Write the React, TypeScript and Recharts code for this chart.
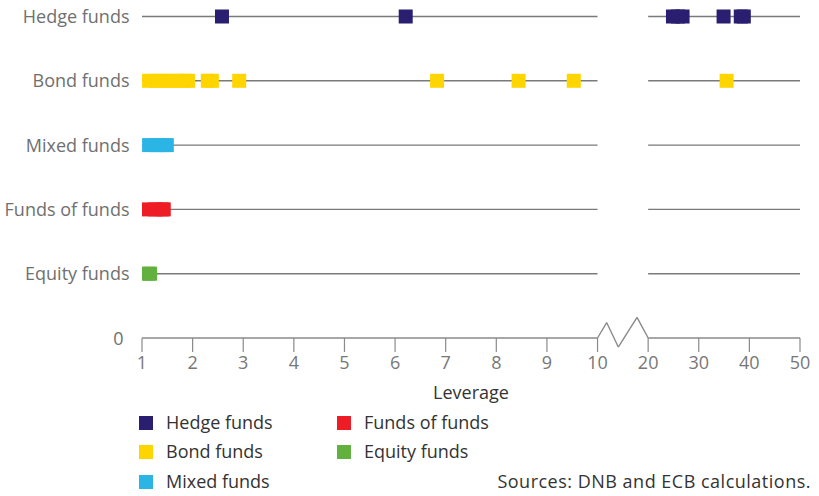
import React from "react";
import {
  ScatterChart,
  Scatter,
  XAxis,
  YAxis,
  ReferenceLine,
} from "recharts";

// ---- data ----
const categories = ["Hedge funds", "Bond funds", "Mixed funds", "Funds of funds", "Equity funds"];
const hedgeFunds = [2.58, 6.21, 24.9, 25.9, 26.8, 34.9, 38.3, 38.9];
const bondFunds = [1.14, 1.28, 1.41, 1.55, 1.69, 1.83, 1.91, 2.3, 2.38, 2.92, 6.83, 8.44, 9.53, 35.5];
const mixedFunds = [1.14, 1.28, 1.41, 1.49];
const fundsOfFunds = [1.12, 1.26, 1.39, 1.43];
const equityFunds = [1.12, 1.16];
const xTickValues = [1, 2, 3, 4, 5, 6, 7, 8, 9, 10, 20, 30, 40, 50];
const colors = ["#2a1e70", "#ffd500", "#2bb5e4", "#ee1c25", "#62b03e"];
const sourceText = "Sources: DNB and ECB calculations.";
const xLabel = "Leverage";

// broken axis: 1..10 linear, then 20..50 compressed (10 per unit)
const toD = (v: number) => (v <= 10 ? v - 1 : 10 + (v - 20) / 10);
const seriesValues = [hedgeFunds, bondFunds, mixedFunds, fundsOfFunds, equityFunds];
const series = seriesValues.map((vals, i) => ({
  name: categories[i],
  color: colors[i],
  row: 5 - i,
  data: vals.map((v) => ({ d: toD(v), y: 5 - i, v })),
}));
const xTicks = xTickValues.map(toD);
const tickLabelOf = (d: number) => {
  const idx = xTicks.findIndex((t) => Math.abs(t - d) < 1e-6);
  return idx >= 0 ? String(xTickValues[idx]) : "";
};

const FONT = "'Open Sans', sans-serif";
const GRID = "#7a7a7a";
const AXIS = "#8a8a8a";

const YTick = (props: any) => {
  const { x, y, payload } = props;
  const v = payload.value as number;
  const label = v === 0 ? "0" : categories[5 - v];
  return (
    <text
      x={v === 0 ? x - 6 : x}
      y={y + 6.5}
      textAnchor="end"
      fill="#707070"
      fontSize={18}
      fontFamily={FONT}
    >
      {label}
    </text>
  );
};

const XTick = (props: any) => {
  const { x, y, payload } = props;
  return (
    <text x={x} y={y + 12.5} textAnchor="middle" fill="#777" fontSize={18} fontFamily={FONT}>
      {tickLabelOf(payload.value)}
    </text>
  );
};

const makeShape = (color: string) => (props: any) => {
  const { cx, cy } = props;
  return <rect x={cx - 7} y={cy - 7} width={14} height={14} fill={color} />;
};

const legendItems = [
  { i: 0, left: 139, top: 416 },
  { i: 1, left: 139, top: 445 },
  { i: 2, left: 139, top: 475 },
  { i: 3, left: 337, top: 416 },
  { i: 4, left: 337, top: 445 },
];

export default function App() {
  const zig = [
    { x: 9, y: 0 },
    { x: 9.18, y: 0.24 },
    { x: 9.41, y: -0.14 },
    { x: 9.78, y: 0.32 },
    { x: 10, y: 0 },
  ];
  return (
    <div style={{ position: "absolute", left: 0, top: 0, width: 819, height: 496, background: "#fff" }}>
      <ScatterChart
        width={819}
        height={496}
        margin={{ top: 16.5, right: 19, bottom: 128, left: 0 }}
      >
        <XAxis
          type="number"
          dataKey="d"
          domain={[0, 13]}
          ticks={xTicks}
          interval={0}
          axisLine={false}
          tickLine={{ stroke: AXIS, strokeWidth: 1.2 }}
          tickSize={14}
          tickMargin={4}
          height={30}
          tick={<XTick />}
          allowDataOverflow
        />
        <YAxis
          type="number"
          dataKey="y"
          domain={[0, 5]}
          ticks={[0, 1, 2, 3, 4, 5]}
          interval={0}
          axisLine={false}
          tickLine={false}
          tickSize={0}
          tickMargin={12.5}
          width={142}
          tick={<YTick />}
        />
        {series.map((s) => (
          <ReferenceLine
            key={"a" + s.name}
            segment={[{ x: 0, y: s.row }, { x: 9, y: s.row }]}
            stroke={GRID}
            strokeWidth={1.4}
            ifOverflow="visible"
          />
        ))}
        {series.map((s) => (
          <ReferenceLine
            key={"b" + s.name}
            segment={[{ x: 10, y: s.row }, { x: 13, y: s.row }]}
            stroke={GRID}
            strokeWidth={1.4}
            ifOverflow="visible"
          />
        ))}
        <ReferenceLine segment={[{ x: 0, y: 0 }, { x: 9, y: 0 }]} stroke={AXIS} strokeWidth={1.4} ifOverflow="visible" />
        <ReferenceLine segment={[{ x: 10, y: 0 }, { x: 13, y: 0 }]} stroke={AXIS} strokeWidth={1.4} ifOverflow="visible" />
        {zig.slice(0, -1).map((p, i) => (
          <ReferenceLine
            key={"z" + i}
            segment={[p, zig[i + 1]]}
            stroke={AXIS}
            strokeWidth={1.4}
            ifOverflow="visible"
          />
        ))}
        {series.map((s) => (
          <Scatter
            key={s.name}
            name={s.name}
            data={s.data}
            fill={s.color}
            shape={makeShape(s.color)}
            isAnimationActive={false}
          />
        ))}
      </ScatterChart>
      <div
        style={{
          position: "absolute",
          left: 371,
          width: 200,
          top: 380,
          textAlign: "center",
          fontFamily: FONT,
          fontSize: 18,
          lineHeight: "24px",
          color: "#333",
        }}
      >
        {xLabel}
      </div>
      {legendItems.map((it) => (
        <div key={it.i} style={{ position: "absolute", left: it.left, top: it.top, height: 14 }}>
          <div
            style={{ position: "absolute", left: 0, top: 0, width: 14, height: 14, background: colors[it.i] }}
          />
          <div
            style={{
              position: "absolute",
              left: 27,
              top: -6,
              whiteSpace: "nowrap",
              fontFamily: FONT,
              fontSize: 18,
              lineHeight: "24px",
              color: "#333",
            }}
          >
            {categories[it.i]}
          </div>
        </div>
      ))}
      <div
        style={{
          position: "absolute",
          right: 8,
          top: 469,
          whiteSpace: "nowrap",
          fontFamily: FONT,
          fontSize: 18,
          lineHeight: "24px",
          letterSpacing: "0.5px",
          color: "#333",
        }}
      >
        {sourceText}
      </div>
    </div>
  );
}
